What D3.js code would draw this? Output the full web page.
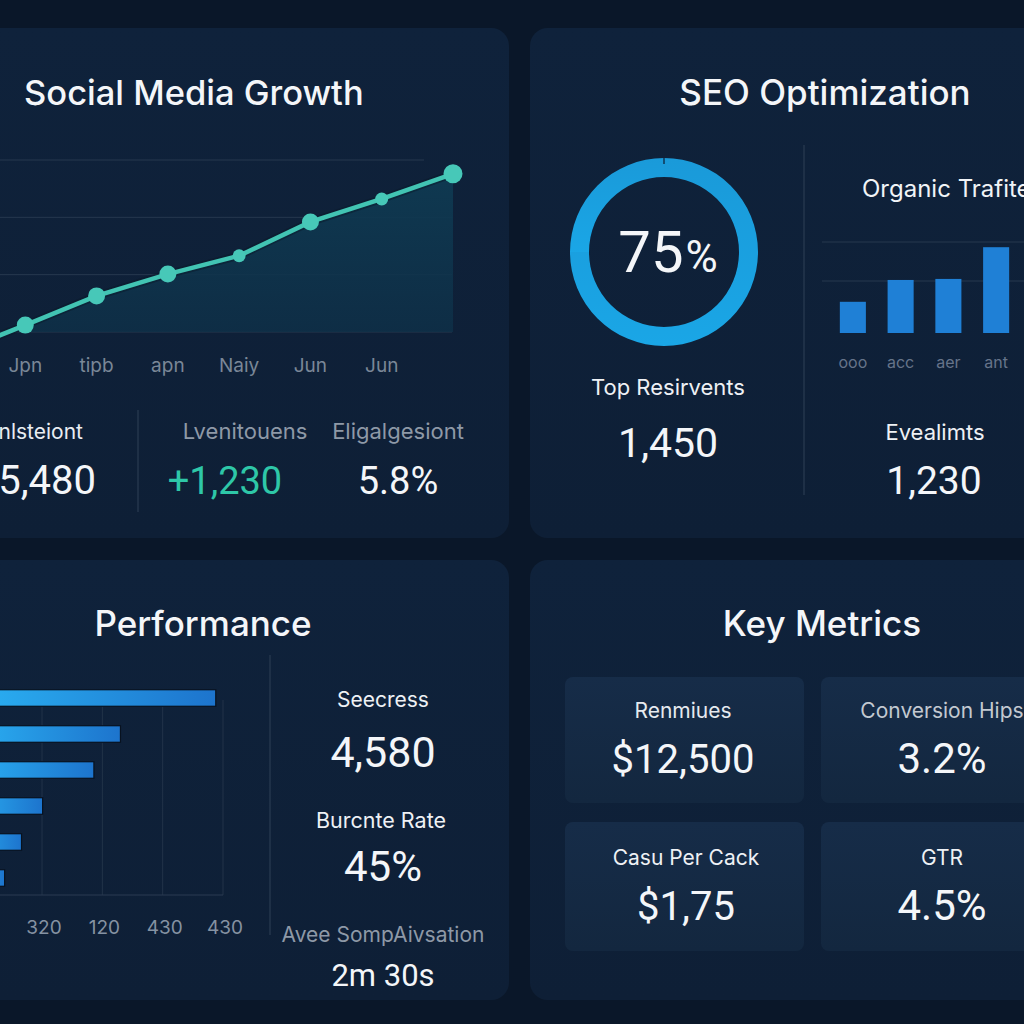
<!DOCTYPE html>
<html>
<head>
<meta charset="utf-8">
<script src="https://cdn.jsdelivr.net/npm/d3@7"></script>
<style>
  html, body { margin: 0; padding: 0; background: #0a1729; }
  svg { display: block; }
  text { font-family: "Inter", "Roboto", sans-serif; }
  .num { font-family: "Roboto", "Inter", sans-serif; }
</style>
</head>
<body>
<svg id="chart" width="1024" height="1024"></svg>
<script>
// ---------- DATA ----------
const socialMonths = ["Dec", "Jpn", "tipb", "apn", "Naiy", "Jun", "Jun", ""];
const socialValues = [1240, 2240, 3260, 4020, 4660, 5840, 6640, 7520];
const socialGridTicks = [2000, 4000, 6000, 8000];
const socialStatLabels = ["nlsteiont", "Lvenitouens", "Eligalgesiont"];
const socialStatValues = ["5,480", "+1,230", "5.8%"];

const seoScore = 75;
const seoStatLabel = "Top Resirvents";
const seoStatValue = "1,450";
const organicCategories = ["ooo", "acc", "aer", "ant"];
const organicValues = [600, 1020, 1040, 1650];
const organicGridTicks = [1000, 1750];
const organicStatLabel = "Evealimts";
const organicStatValue = "1,230";

const perfCategories = ["Direct", "Organic", "Social", "Referral", "Email", "Paid"];
const perfValues = [388, 230, 186, 101, 66, 38];
const perfTicks = [100, 200, 300, 400];
const perfTickLabels = ["320", "120", "430", "430"];
const perfStatLabels = ["Seecress", "Burcnte Rate", "Avee SompAivsation"];
const perfStatValues = ["4,580", "45%", "2m 30s"];

const keyLabels = ["Renmiues", "Conversion Hips", "Casu Per Cack", "GTR"];
const keyValues = ["$12,500", "3.2%", "$1,75", "4.5%"];

// ---------- SETUP ----------
const svg = d3.select("#chart");
const defs = svg.append("defs");

svg.append("rect").attr("width", 1024).attr("height", 1024).attr("fill", "#0a1729");

const panelGrad = defs.append("linearGradient").attr("id", "panelGrad")
  .attr("x1", 0).attr("y1", 0).attr("x2", 0).attr("y2", 1);
panelGrad.append("stop").attr("offset", "0%").attr("stop-color", "#0f223b");
panelGrad.append("stop").attr("offset", "100%").attr("stop-color", "#0e1f36");

const panels = [
  { x: -30, y: 28, w: 539, h: 510 },
  { x: 530, y: 28, w: 524, h: 510 },
  { x: -30, y: 560, w: 539, h: 440 },
  { x: 530, y: 560, w: 524, h: 440 }
];
svg.selectAll("rect.panel").data(panels).join("rect")
  .attr("class", "panel")
  .attr("x", d => d.x).attr("y", d => d.y)
  .attr("width", d => d.w).attr("height", d => d.h)
  .attr("rx", 18).attr("fill", "url(#panelGrad)");

function txt(g, x, y, s, size, color, anchor, cls, weight) {
  return g.append("text").attr("x", x).attr("y", y).text(s)
    .attr("font-size", size).attr("fill", color)
    .attr("text-anchor", anchor || "middle")
    .attr("class", cls || null)
    .attr("font-weight", weight || 400);
}

// ---------- SOCIAL MEDIA GROWTH ----------
const g1 = svg.append("g");
txt(g1, 24, 105, "Social Media Growth", 34.5, "#f4f6f9", "start", null, 500);

const xS = d3.scalePoint().domain(d3.range(socialMonths.length)).range([-46, 453]);
const yS = d3.scaleLinear().domain([2000, 8000]).range([332, 160]);

g1.selectAll("line.grid").data(socialGridTicks).join("line")
  .attr("class", "grid")
  .attr("x1", 0).attr("x2", (d, i) => i === socialGridTicks.length - 1 ? 424 : 452)
  .attr("y1", d => yS(d)).attr("y2", d => yS(d))
  .attr("stroke", "#26384f").attr("stroke-width", 1);

const areaGrad = defs.append("linearGradient").attr("id", "areaGrad")
  .attr("x1", 0).attr("y1", 0).attr("x2", 0).attr("y2", 1);
areaGrad.append("stop").attr("offset", "0%").attr("stop-color", "#0f3a52").attr("stop-opacity", 0.95);
areaGrad.append("stop").attr("offset", "100%").attr("stop-color", "#0e2f47").attr("stop-opacity", 0.8);

const area = d3.area().x((d, i) => xS(i)).y0(yS(2000)).y1(d => yS(d));
const line = d3.line().x((d, i) => xS(i)).y(d => yS(d));
g1.append("path").datum(socialValues).attr("d", area).attr("fill", "url(#areaGrad)");
g1.append("path").datum(socialValues).attr("d", line)
  .attr("fill", "none").attr("stroke", "#0a1a2a").attr("stroke-width", 8).attr("opacity", 0.5);
g1.append("path").datum(socialValues).attr("d", line)
  .attr("fill", "none").attr("stroke", "#42c4b3").attr("stroke-width", 4.5);
g1.selectAll("circle.pt").data(socialValues).join("circle")
  .attr("class", "pt")
  .attr("cx", (d, i) => xS(i)).attr("cy", d => yS(d))
  .attr("r", (d, i) => (i === 4 || i === 6) ? 6.5 : (i === 7 ? 9.5 : 8.5))
  .attr("fill", "#47c8b8");

// month labels (only those falling inside the visible panel)
g1.selectAll("text.xl").data(socialMonths.filter((d, i) => d && xS(i) > 0)).join("text")
  .attr("class", "xl")
  .attr("x", d => xS(socialMonths.indexOf(d)))
  .attr("y", 372)
  .attr("text-anchor", "middle").attr("font-size", 19)
  .attr("fill", "#7a8797").text(d => d);
// the two "Jun" labels share text; place them by position explicitly
g1.selectAll("text.xl").attr("x", (d, i) => xS(i + 1));

g1.append("line").attr("x1", 138).attr("x2", 138).attr("y1", 410).attr("y2", 512)
  .attr("stroke", "#24364d").attr("stroke-width", 1.5);

txt(g1, 83, 439, socialStatLabels[0], 21, "#e9edf2", "end");
txt(g1, 245, 439, socialStatLabels[1], 22, "#8e99a7", "middle");
txt(g1, 398, 439, socialStatLabels[2], 22, "#8e99a7", "middle");
txt(g1, 96, 494, socialStatValues[0], 40, "#f4f6f9", "end", "num");
txt(g1, 225, 494, socialStatValues[1], 38, "#2ec7a8", "middle", "num");
txt(g1, 398, 494, socialStatValues[2], 38, "#f4f6f9", "middle", "num");

// ---------- SEO OPTIMIZATION ----------
const g2 = svg.append("g");
txt(g2, 825, 105, "SEO Optimization", 35, "#f4f6f9", "middle", null, 500);

const ringGrad = defs.append("linearGradient").attr("id", "ringGrad")
  .attr("x1", 0).attr("y1", 0).attr("x2", 0).attr("y2", 1);
ringGrad.append("stop").attr("offset", "0%").attr("stop-color", "#1a9ad9");
ringGrad.append("stop").attr("offset", "100%").attr("stop-color", "#1aa6e6");

const pie = d3.pie().sort(null).value(d => d);
const arc = d3.arc().innerRadius(75).outerRadius(94);
const donut = g2.append("g").attr("transform", "translate(664,252)");
donut.selectAll("path").data(pie([seoScore, 100 - seoScore])).join("path")
  .attr("d", arc).attr("fill", "url(#ringGrad)");
donut.append("line").attr("x1", 0).attr("x2", 0).attr("y1", -94).attr("y2", -88)
  .attr("stroke", "#0c1c30").attr("stroke-width", 1.2);
const pct = donut.append("text").attr("class", "num").attr("x", 4).attr("y", 20)
  .attr("text-anchor", "middle").attr("fill", "#f4f6f9");
pct.append("tspan").attr("font-size", 58).text(seoScore);
pct.append("tspan").attr("font-size", 44).attr("dx", 2).text("%");

txt(g2, 668, 395, seoStatLabel, 22, "#eef1f5", "middle");
txt(g2, 668, 457, seoStatValue, 41, "#f4f6f9", "middle", "num");

g2.append("line").attr("x1", 804).attr("x2", 804).attr("y1", 145).attr("y2", 495)
  .attr("stroke", "#24364d").attr("stroke-width", 1.5);

txt(g2, 862, 197, "Organic Trafite", 24, "#f1f4f7", "start");

const xO = d3.scaleBand().domain(organicCategories).range([829, 1020])
  .paddingInner(0.4545).paddingOuter(0.227);
const yO = d3.scaleLinear().domain([0, 1750]).range([333, 242]);
g2.selectAll("line.og").data(organicGridTicks).join("line")
  .attr("class", "og")
  .attr("x1", 822).attr("x2", 1024)
  .attr("y1", d => yO(d)).attr("y2", d => yO(d))
  .attr("stroke", "#26384f").attr("stroke-width", 1);
g2.selectAll("rect.ob").data(organicValues).join("rect")
  .attr("class", "ob")
  .attr("x", (d, i) => xO(organicCategories[i])).attr("width", xO.bandwidth())
  .attr("y", d => yO(d)).attr("height", d => yO(0) - yO(d))
  .attr("fill", "#1f80d6");
g2.selectAll("text.ol").data(organicCategories).join("text")
  .attr("class", "ol")
  .attr("x", d => xO(d) + xO.bandwidth() / 2).attr("y", 368)
  .attr("text-anchor", "middle").attr("font-size", 16)
  .attr("fill", "#66748a").text(d => d);

txt(g2, 935, 440, organicStatLabel, 22, "#eef1f5", "middle");
txt(g2, 934, 494, organicStatValue, 39, "#f4f6f9", "middle", "num");

// ---------- PERFORMANCE ----------
const g3 = svg.append("g");
txt(g3, 203, 636, "Performance", 35, "#f4f6f9", "middle", null, 500);

const xP = d3.scaleLinear().domain([0, 400]).range([-18.3, 223]);
const yP = d3.scaleBand().domain(perfCategories).range([680, 896])
  .paddingInner(0.54).paddingOuter(0.27);

g3.selectAll("line.pg").data(perfTicks).join("line")
  .attr("class", "pg")
  .attr("x1", d => xP(d)).attr("x2", d => xP(d))
  .attr("y1", 700).attr("y2", 895)
  .attr("stroke", "#223349").attr("stroke-width", 1);
g3.append("line").attr("x1", 0).attr("x2", xP(400)).attr("y1", 895).attr("y2", 895)
  .attr("stroke", "#2a3b52").attr("stroke-width", 1);

const barGrad = defs.append("linearGradient").attr("id", "barGrad")
  .attr("x1", 0).attr("y1", 0).attr("x2", 1).attr("y2", 0);
barGrad.append("stop").attr("offset", "0%").attr("stop-color", "#2bb3f4");
barGrad.append("stop").attr("offset", "100%").attr("stop-color", "#1d74cd");

g3.selectAll("rect.pb").data(perfValues).join("rect")
  .attr("class", "pb")
  .attr("x", xP(0) - 20).attr("width", d => xP(d) - xP(0) + 20)
  .attr("y", (d, i) => yP(perfCategories[i])).attr("height", yP.bandwidth())
  .attr("fill", "url(#barGrad)").attr("stroke", "#08121f").attr("stroke-width", 1.2);

g3.selectAll("text.pl").data(perfTicks).join("text")
  .attr("class", "pl")
  .attr("x", d => xP(d) + 2).attr("y", 934)
  .attr("text-anchor", "middle").attr("font-size", 19)
  .attr("fill", "#8592a2").text((d, i) => perfTickLabels[i]);

g3.append("line").attr("x1", 270).attr("x2", 270).attr("y1", 655).attr("y2", 935)
  .attr("stroke", "#24364d").attr("stroke-width", 1.5);

txt(g3, 383, 707, perfStatLabels[0], 21, "#eef1f5", "middle");
txt(g3, 383, 767, perfStatValues[0], 43, "#f4f6f9", "middle", "num");
txt(g3, 381, 828, perfStatLabels[1], 21.5, "#eef1f5", "middle");
txt(g3, 383, 881, perfStatValues[1], 42, "#f4f6f9", "middle", "num");
txt(g3, 383, 942, perfStatLabels[2], 21, "#8e99a7", "middle");
txt(g3, 383, 986, perfStatValues[2], 31, "#f4f6f9", "middle", "num");

// ---------- KEY METRICS ----------
const g4 = svg.append("g");
txt(g4, 822, 636, "Key Metrics", 35, "#f4f6f9", "middle", null, 500);

const cards = [
  { x: 565, y: 677, w: 239, h: 126, cx: 683, lc: "#e6eaef" },
  { x: 821, y: 677, w: 240, h: 126, cx: 942, lc: "#c3c9d1" },
  { x: 565, y: 822, w: 239, h: 129, cx: 686, lc: "#eef1f5" },
  { x: 821, y: 822, w: 240, h: 129, cx: 942, lc: "#eef1f5" }
];
const cardGrad = defs.append("linearGradient").attr("id", "cardGrad")
  .attr("x1", 0).attr("y1", 0).attr("x2", 0).attr("y2", 1);
cardGrad.append("stop").attr("offset", "0%").attr("stop-color", "#162c48");
cardGrad.append("stop").attr("offset", "100%").attr("stop-color", "#13273f");

g4.selectAll("rect.card").data(cards).join("rect")
  .attr("class", "card")
  .attr("x", d => d.x).attr("y", d => d.y).attr("width", d => d.w).attr("height", d => d.h)
  .attr("rx", 8).attr("fill", "url(#cardGrad)");

cards.forEach((c, i) => {
  const row = i < 2 ? 0 : 1;
  txt(g4, c.cx, row === 0 ? 718 : 865, keyLabels[i], 21, c.lc, "middle");
  txt(g4, c.cx, row === 0 ? 773 : 920, keyValues[i], i % 2 === 1 ? 42 : 40, "#f4f6f9", "middle", "num");
});
</script>
</body>
</html>
